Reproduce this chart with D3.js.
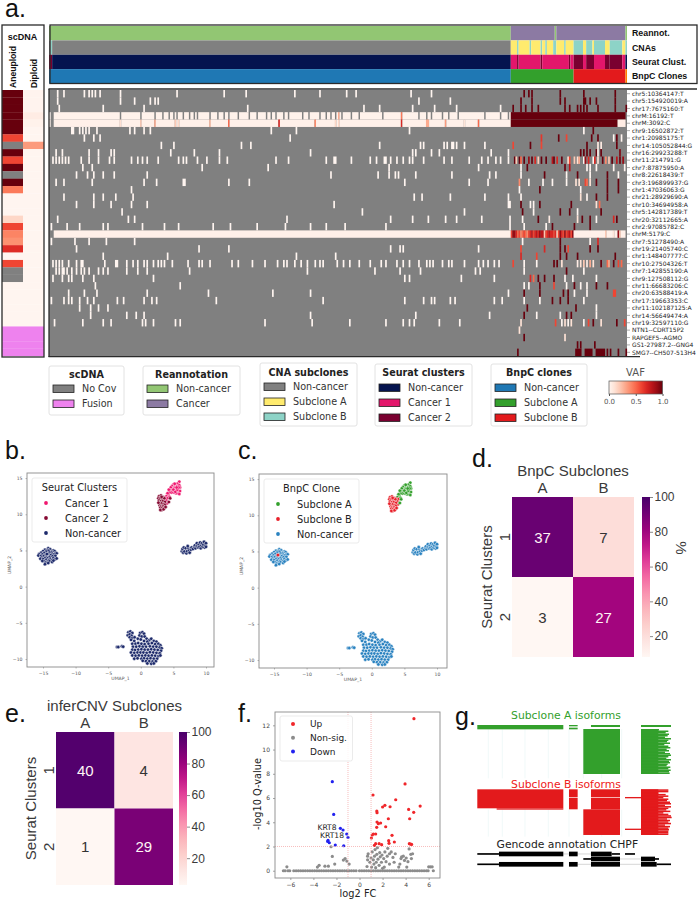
<!DOCTYPE html>
<html>
<head>
<meta charset="utf-8">
<title>scDNA / scRNA subclones</title>
<script src="https://d3js.org/d3.v7.min.js"></script>
<style>
    body { margin: 0; background: white; }
    svg { display: block; }
    text { font-family: "DejaVu Sans"; }
    .arial text, text.arial { font-family: "Liberation Sans"; }
</style>
</head>
<body>
<script>
// ---------- panel a data ----------
const rowLabels = ["chr5:10364147:T","chr5:154920019:A","chr17:7675160:T","chrM:16192:T","chrM:3092:C","chr9:16502872:T","chr1:20985175:T","chr14:105052844:G","chr16:29923288:T","chr11:214791:G","chr7:87875950:A","chr8:22618439:T","chr3:196899937:G","chr1:47036063:G","chr21:28929690:A","chr10:34694958:A","chr5:142817389:T","chr20:32112665:A","chr2:97085782:C","chrM:5179:C","chr7:51278490:A","chr19:21405740:C","chr1:148407777:C","chr10:27504326:T","chr7:142855190:A","chr9:127508112:G","chr11:66683206:C","chr20:63588419:A","chr17:19663353:C","chr11:102187125:A","chr14:56649474:A","chr19:32597110:G","NTN1--CDRT15P2","RAPGEF5--AGMO","GS1-27987.2--GNG4","SMG7--CH507-513H4"];
const nCols = 368;

// scDNA side bars (null = no coverage, "F" = fusion row)
const scAneuploid = [1,1,1,1,1,1,0.6,null,1,0.6,1,null,1,0.45,0,0,0,0.15,0.6,0.42,0.38,0.68,0,0.6,null,null,0,0,0,0,0,0,"F","F","F","F"];
const scDiploid = [0.01,0.01,0.01,0.05,0.02,0,0,0.35,0,0,0,0,0,0,0,0,0,0,0,0,0,0,0,0,0,0,0,0,0,0,0,0,"F","F","F","F"];

// annotation bars as [first column, end column, category]
const annotNames = ["Reannot.","CNAs","Seurat Clust.","BnpC Clones"];
const reannotSegs = [[0,294,"non"],[294,322,"cancer"],[322,323,"non"],[323,367,"cancer"],[367,368,"non"]];
const cnaSegs = [[0,1,"non"],[1,2,"b"],[2,294,"non"],[294,298,"a"],[298,299,"b"],[299,306,"a"],[306,307,"b"],[307,313,"a"],[313,314,"b"],[314,316,"a"],[316,317,"b"],[317,321,"a"],[321,323,"b"],[323,328,"a"],[328,329,"b"],[329,334,"a"],[334,340,"b"],[340,342,"a"],[342,346,"b"],[346,347,"a"],[347,354,"b"],[354,357,"a"],[357,365,"b"],[365,367,"a"],[367,368,"b"]];
const seuratSegs = [[0,2,"c2"],[2,294,"non"],[294,298,"c1"],[298,299,"c2"],[299,313,"c1"],[313,314,"c2"],[314,331,"c1"],[331,332,"c2"],[332,334,"c1"],[334,340,"c2"],[340,342,"c1"],[342,347,"c2"],[347,354,"c1"],[354,357,"c2"],[357,365,"c2"],[365,367,"c1"],[367,368,"non"]];
const bnpcSegs = [[0,294,"non"],[294,334,"a"],[334,367,"b"],[367,368,"last"]];

// columns with coverage and VAF near 0, one list per row, non-cancer cells
const whiteCols = [
[5,9,22,25,27,29,32,45,81,111,125,156,172,189,195,230,243],
[5,45,54,64,67,69,235,255],
[6,34,60,126,200,210,231,245,259,287],
[],[],
[14,15,19,21,23,25,30,51,54,60,64,141,157,229],
[22,28,32,153],
[71,79,122,128,210,236,238,251,253,256,257,259,264,277],
[4,8,25,31,39,41,77,92,108,166,231,233,243,248,281,292],
[2,4,6,8,10,12,20,25,31,38,41,52,56,59,62,69,82,85,87,94,100,108,113,144,152,176,181,182,192,204,208,213,214,217,221,225,229,231,238,251,256,267,275,279,284,287,292],
[21,27,97,139,216,273],
[17,24,28,34,41,62,179,209,216,220,222,233,256,280,284],
[4,9,27,60,68,85,86,114,127,226,267,279],
[52],
[9,28,34,42,53,232,237,255,277,292],
[17,28,39,52,62,181,292,293],
[46,199,264],
[5,50,54,151,217,231,241,252,259,275,293],
[1,11,19,34,37,59,73,82,104,115,132,150,166,176,188,214,293],
[],
[1,16,25,36,54],
[17,95,114,217,223,225,273],
[34,75,157,182],
[2,4,6,8,12,17,20,21,35,42,43,49,53,56,60,62,66,69,71,73,78,88,95,97,102,116,120,129,137,145,149,151,156,160,164,169,172,174,183,187,191,197,204,211,214,221,225,229,235,240,242,244,250,254,256,264,273,276,279,283,286],
[4,6,8,9,11,14,17,20,22,25,31,34,37,49,56,62,89,164,207,223,236,271,274],
[2,8,12,14,21,28,66,226,229,262,283],
[29,83],
[12,22,30,62,101,142,166,292],
[1,9,12,14,19,24,28,43,47,60,65,68,106,174,226,238,243,245,255,258,283,288],
[19,26,31,37],
[26,49,55,60,166,233,280],
[3,21,34,39,59,61,66,80,83,137,167,191,214,225,229,232,248,261],
[],[],[],[]
];

// the three chrM rows are covered nearly everywhere: [row, first col, end col, vaf]
const coveredSpans = [[3,0,1,0],[3,3,294,0.02],[4,0,1,0.02],[4,3,294,0.03],[19,3,294,0.03],[3,294,367,1],[4,294,362,1],[4,362,367,0.05],[19,334,359,0.03],[19,360,367,0.03]];
const chrM16192Gaps = [45,58,67,72,76,79,81,85,89,92,94,102,107,111,114,120,127,132,138,141,144,149,152,161,165,172,176,179,182,186,192,197,212,224,235,240,243,250,254,260,277,287,292];

// single cells with a read VAF: one list per row of [col, vaf]
const vafCells = [
[[302,1],[305,1],[307,1],[325,1],[340,1],[360,1]],
[[300,1],[307,1],[325,1],[328,1],[340,1],[341,1],[344,1],[348,1],[360,1]],
[[295,1],[300,1],[303,1],[307,1],[311,1],[328,1],[331,1],[336,1],[338,1],[340,1],[342,1],[349,1],[360,1],[367,1]],
[[184,0.3],[224,0.45]],
[[45,0.12],[58,0.2],[67,0.3],[80,0.2],[82,0.15],[102,0.25],[114,0.5],[146,0.7],[169,0.4],[182,0.15],[184,0.15],[224,0.7],[240,0.3],[241,0.3],[252,0.35],[264,0.1],[273,0.5]],
[[340,0],[346,1]],
[[313,0.65],[324,1],[329,0.6],[345,1],[349,1],[359,0],[361,1],[364,0]],
[[295,0.6],[306,1],[313,0.6],[342,1],[349,0.05],[351,0.05],[361,1]],
[[338,1],[340,1],[342,1],[344,1],[348,1],[349,0],[351,1],[363,0.95]],
[[296,1],[297,0.2],[299,1],[300,0.5],[302,1],[305,0.9],[307,1],[309,0.7],[311,0.2],[313,1],[316,1],[320,0.8],[321,1],[323,0.7],[326,1],[330,0.1],[331,0.6],[334,0.2],[336,0.1],[337,0.3],[340,0],[341,0.9],[343,0.7],[346,0],[347,0.7],[349,0.1],[352,1],[354,0.4],[356,0.2],[358,1],[361,0.8],[363,1],[365,0.9]],
[[300,0],[304,1],[328,1],[331,0.8],[342,0],[344,0],[348,0],[359,0],[366,0]],
[[300,0],[315,1],[329,0],[336,1],[344,0],[355,1],[362,0]],
[[299,0.4],[305,0],[314,0],[320,0],[329,0],[335,0.1],[337,0.1],[341,0.6],[342,0.5],[344,0.1],[348,1],[355,1],[362,1]],
[[299,0],[312,1],[338,0],[355,1],[362,1]],
[[300,0],[338,0.1],[342,0],[348,1],[355,1]],
[[300,1],[306,0],[308,0],[312,1],[332,1],[348,0.1],[350,0.5]],
[[301,1],[308,0],[325,1],[331,1],[336,0],[351,1]],
[[301,0],[311,1],[318,0.05],[336,0.1],[339,1],[344,1],[348,0],[359,0.7],[361,1]],
[[302,0],[316,0],[320,1],[334,1],[344,1]],
[[294,0.6],[295,0.9],[296,0.9],[297,0.7],[298,0.5],[299,0.6],[300,0.4],[301,0.5],[302,0.6],[303,0.5],[304,0.4],[305,0.6],[306,0.7],[307,0.8],[308,0.6],[309,0.7],[310,0.8],[311,0.7],[312,0.9],[313,0.8],[314,0.8],[315,0.2],[316,0.6],[317,0.7],[318,0.8],[319,0.7],[320,0.7],[321,0.6],[322,0.7],[323,0.2],[324,0.6],[325,0.9],[326,0.7],[327,0.6],[328,0.9],[329,0.6],[330,0.7],[331,0.8],[332,0.6],[333,0.9],[354,0.2],[359,0.1],[362,0.9],[363,0.2]],
[[301,0],[325,1],[344,0],[349,0.7]],
[[300,0.6],[315,0.7],[325,1],[328,1],[330,0.6],[344,1],[349,1]],
[[300,0.7],[310,0.6],[325,1],[329,1],[336,1],[360,1]],
[[295,0.6],[302,0],[310,0],[321,1],[323,1],[326,0.1],[336,0.05],[338,0.1],[340,0.2],[342,0.05],[344,0.3],[346,0.1],[351,1],[355,0.5],[356,0.3],[359,1],[362,0.6],[364,0.5]],
[[302,0],[329,1],[340,0]],
[[306,0.7],[308,0.5],[311,1],[315,1],[321,1],[328,0],[333,0],[348,0]],
[[302,0],[305,0],[312,1],[321,0.6],[329,0],[334,1],[338,0],[342,0],[348,1],[355,1]],
[[302,1],[312,1],[327,1],[330,1],[334,0],[342,0],[359,0.6],[360,0.6]],
[[302,0],[312,0],[320,1],[325,1],[330,1],[340,0]],
[[304,1],[335,1],[348,0]],
[[302,1],[310,0],[325,0],[329,1],[332,1],[348,0]],
[[300,0.1],[322,0.6],[326,0],[328,0.1],[330,0],[332,0.1],[340,0],[343,0.6],[346,1],[351,0.1],[361,1],[366,0.6]],
[[299,0.1]],
[[302,1],[328,0.1]],
[[336,1],[338,1],[347,1]],
[[298,1],[335,1],[336,1],[337,1],[338,1],[341,1],[342,1],[343,1],[344,1],[345,1],[348,1],[349,1],[350,1],[351,1],[352,1],[353,1],[355,1],[357,1],[362,1],[367,1]]
];

// ---------- panels b and c data (UMAP coordinates) ----------
const umapLeft = [[-14.2,5.3],[-14.7,5.1],[-14.3,5.05],[-13.9,5.15],[-13.4,5.0],[-15.0,4.9],[-14.5,4.85],[-14.1,4.95],[-13.7,4.8],[-13.2,4.9],[-15.3,4.7],[-14.8,4.65],[-14.0,4.7],[-13.6,4.55],[-13.1,4.65],[-15.6,4.5],[-15.1,4.45],[-14.6,4.4],[-14.2,4.5],[-13.8,4.35],[-13.3,4.45],[-12.9,4.6],[-15.7,4.3],[-15.3,4.25],[-14.9,4.2],[-14.5,4.15],[-14.0,4.1],[-13.5,4.2],[-13.1,4.25],[-15.2,4.0],[-14.7,3.95],[-14.3,3.9],[-13.9,3.85],[-13.4,3.95],[-15.4,3.85],[-15.0,3.8],[-14.5,3.7],[-14.1,3.65],[-13.7,3.6],[-13.2,3.75],[-12.9,3.9],[-14.8,3.5],[-14.3,3.45],[-14.0,3.5],[-13.6,3.4],[-15.1,3.55],[-14.6,3.3],[-14.2,3.25],[-14.7,3.1],[-13.4,3.6]];
const strayB = [[-14.4,4.5]];
const umapRight = [[6.3,4.9],[6.4,5.2],[6.5,4.7],[6.6,5.4],[6.7,4.85],[6.9,5.3],[7.0,4.6],[7.1,4.9],[7.3,5.3],[7.4,5.0],[7.5,4.7],[7.7,5.1],[7.8,5.4],[8.0,5.2],[8.2,5.5],[8.3,5.7],[8.4,5.3],[8.6,5.6],[8.6,6.0],[8.8,5.4],[8.9,5.8],[9.0,5.5],[9.1,6.1],[9.2,5.3],[9.3,5.7],[9.4,6.0],[9.5,5.5],[9.6,5.8],[9.7,6.2],[9.8,5.4],[9.9,5.7],[10.0,6.0],[10.0,5.5],[7.2,5.6]];
const umapBottom = [[-3.65,-8.35],[-3.45,-8.35],[-2.9,-8.25],[-2.7,-8.3],[-1.9,-6.3],[-1.6,-6.2],[-1.3,-6.4],[-2.0,-6.7],[-1.7,-6.6],[-1.4,-6.8],[-1.7,-7.0],[-1.3,-7.1],[-0.95,-7.0],[-1.5,-7.35],[-1.0,-7.5],[-0.1,-6.4],[0.25,-6.3],[0.5,-6.5],[-0.2,-6.75],[0.15,-6.9],[-0.45,-7.2],[0.6,-6.9],[0.0,-7.3],[0.9,-7.2],[1.3,-7.4],[1.6,-7.2],[0.5,-7.5],[1.0,-7.6],[2.0,-7.5],[2.4,-7.6],[-1.3,-7.9],[-0.8,-7.9],[-0.4,-7.8],[0.1,-7.9],[0.6,-7.95],[1.2,-7.9],[1.7,-7.8],[2.2,-7.95],[2.7,-7.9],[3.0,-8.1],[-1.2,-8.3],[-0.7,-8.3],[-0.2,-8.25],[0.3,-8.3],[0.8,-8.3],[1.4,-8.25],[1.9,-8.3],[2.4,-8.3],[2.9,-8.4],[3.2,-8.5],[-1.3,-8.7],[-0.9,-8.75],[-0.4,-8.7],[0.1,-8.65],[0.6,-8.7],[1.1,-8.7],[1.6,-8.65],[2.1,-8.7],[2.6,-8.75],[3.1,-8.85],[-1.5,-9.1],[-1.0,-9.15],[-0.5,-9.1],[-0.05,-9.1],[0.4,-9.1],[0.9,-9.15],[1.4,-9.05],[1.9,-9.1],[2.4,-9.15],[2.9,-9.2],[-1.3,-9.5],[-0.8,-9.55],[-0.3,-9.5],[0.2,-9.55],[0.7,-9.5],[1.2,-9.55],[1.7,-9.5],[2.2,-9.55],[2.7,-9.6],[3.0,-9.5],[-1.0,-9.95],[-0.5,-9.9],[0.1,-9.95],[0.5,-9.9],[1.0,-9.95],[1.5,-9.9],[2.0,-9.95],[2.5,-9.95],[0.3,-10.25],[0.8,-10.3],[1.3,-10.3],[1.8,-10.35],[2.3,-10.3],[1.0,-10.6],[1.6,-10.65],[2.0,-10.6]];
const cancer1A = [[5.9,14.5],[5.6,14.2],[5.3,14.0],[5.0,14.1],[4.8,13.9],[5.2,13.8],[5.6,13.9],[5.9,14.0],[6.0,13.7],[5.7,13.6],[5.4,13.5],[5.1,13.6],[4.8,13.5],[4.6,13.7],[4.6,13.3],[4.9,13.2],[5.2,13.3],[5.5,13.2],[5.8,13.3],[6.0,13.2],[5.7,12.9],[5.9,12.8],[5.4,12.9],[5.1,13.0],[4.7,13.0],[4.4,13.0],[4.3,13.4],[5.0,13.4],[5.3,13.1],[5.6,13.4],[5.8,13.7],[5.5,13.7],[4.2,12.7],[4.1,12.9],[3.9,12.5],[4.4,12.4],[5.2,14.2]];
const cancer1B = [[3.7,12.3],[4.1,12.2],[3.4,11.9],[3.6,12.0],[3.1,12.3],[4.0,11.5],[3.9,11.9]];
const cancer2A = [[4.5,12.2],[4.3,11.7],[3.8,11.0]];
const cancer2B = [[2.8,12.5],[3.1,12.6],[3.4,12.4],[2.7,12.2],[3.0,12.2],[3.3,12.1],[3.6,12.2],[2.8,11.9],[3.1,11.8],[3.4,11.8],[3.7,11.7],[2.9,11.5],[3.2,11.5],[3.5,11.4],[3.7,11.3],[2.9,11.2],[3.1,11.1],[3.4,11.1],[3.0,10.9],[3.3,10.9],[3.6,10.9],[3.2,10.6],[3.0,10.6],[3.5,10.7],[2.7,11.6],[3.8,11.0],[3.2,12.4]];
const umapTicksX = [-15,-10,-5,0,5,10];
const umapTicksY = [-10,-5,0,5,10,15];

// ---------- panels d and e data ----------
const bnpcCounts = [[37,7],[3,27]];
const bnpcPct = [[92.5,20.6],[7.5,79.4]];
const cnvCounts = [[40,4],[1,29]];
const cnvPct = [[97.6,12.1],[2.4,87.9]];
const cbarTicks = [20,40,60,80,100];

// ---------- panel f data ----------
const volcanoUp = [[4.72,12.55],[3.95,7.16],[1.17,6.25],[3.14,5.86],[5.26,5.34],[2.2,5.4],[2.0,5.26],[2.65,5.28],[4.26,5.06],[4.7,4.82],[1.5,4.93],[1.52,4.79],[4.35,4.29],[2.5,4.29],[1.52,4.02],[1.63,3.88],[1.83,3.94],[2.27,3.63],[1.49,3.58],[2.82,2.92],[1.1,2.95],[1.2,3.03],[1.4,3.03],[1.03,2.7],[2.53,2.48],[2.56,2.26],[3.02,2.37],[1.4,2.23],[1.7,2.23],[1.92,2.15],[1.29,2.09],[4.32,2.23],[4.52,2.17],[4.42,2.2]];
const volcanoDown = [[-2.36,7.35],[-2.24,4.65],[-1.66,3.5],[-1.43,3.36],[-1.11,3.03],[-1.0,2.75],[-2.73,2.5],[-2.62,2.31],[-2.76,2.42],[-2.1,2.12],[-1.37,2.06]];
const volcanoGray = [[-6.6,0],[-6.45,0],[-6.3,0.32],[-6.2,0],[-6.05,0],[-2.36,1.18],[-2.47,1.98],[-3.5,0.45],[-3.65,0.3],[-3.0,0.38],[-2.7,0.38],[-2.15,0.55],[-1.25,1.0],[-1.1,0.8],[-1.4,0.88],[-0.9,0.55],[6.0,0.32],[6.15,0.32],[6.3,0.32],[6.4,0],[0.65,0.35],[0.7,0.9],[0.7,1.2],[0.75,1.4],[0.9,0.7],[1.0,1.05],[1.05,0.3],[1.1,1.55],[1.2,0.9],[1.25,0.55],[1.3,1.2],[1.35,1.75],[1.4,0.25],[1.45,0.7],[1.5,1.35],[1.55,1.9],[1.6,0.95],[1.7,0.45],[1.75,1.5],[1.8,1.15],[1.9,0.7],[1.95,1.3],[2.1,1.0],[2.15,0.3],[2.2,1.55],[2.3,0.75],[2.4,1.2],[2.45,1.85],[2.6,1.4],[2.6,0.55],[2.75,1.55],[2.9,1.1],[3.0,0.7],[3.1,1.4],[3.4,0.3],[3.5,0.55],[3.6,1.0],[3.65,1.15],[3.8,1.2],[3.9,0.85],[4.05,1.05],[4.2,0.75],[4.3,1.8],[4.45,1.35],[4.5,1.0],[4.6,1.4],[4.1,0.3],[2.0,0.2]];
const volcanoZeroX = [-5.7,-5.5,-5.3,-5.1,-4.9,-4.7,-4.5,-4.3,-4.1,-3.9,-3.7,-3.5,-3.3,-3.1,-2.9,-2.7,-2.5,-2.3,-2.1,-1.9,-1.7,-1.5,-1.3,-1.1,-0.9,-0.7,-0.5,-0.3,0.0,0.2,0.4,0.6,0.8,1.0,1.2,1.4,1.6,1.8,2.0,2.2,2.4,2.6,2.8,3.0,3.2,3.4,3.6,3.8,4.0,4.2,4.4,4.6,4.8,5.0,5.2,5.4,5.6,5.8,5.95];
const volcanoTicksX = [-6,-4,-2,0,2,4,6];
const volcanoTicksY = [0,2,4,6,8,10,12];

// ---------- panel g data, browser coordinates [start, end, top, bottom] ----------
const isoGreen = [[67,325,180,193],[342,368,180,184],[342,368,188,193],[408,495,180,186],[558,648,180,186],[385,495,192,327],[558,610,192,327]];
const isoRed = [[67,325,373,430],[125,325,430,434],[342,368,373,397],[342,368,399,433],[408,495,373,397],[408,495,399,433],[385,495,433,510],[510,558,396,400],[510,558,491,495],[558,610,373,510]];
const greenRead = [612,640,632,642,638,630,648,640,636,645,628,640,646,635,642,630,645,648,640,634,648,642,645,638,635,646,640,647,642,644];
const redRead = [640,640,610,632,640,625,640,636,645,648,630,648,640,634,646,625,640,648,650,636,645,640,648,630,645,640,642,640,640,640];
const isoFaintX = [100,142,210,280,342,385,440,500];
const geneThin = [[67,132,564.5,569.5],[470,495,564.5,569.5],[510,540,564.5,569.5],[385,408,579.5,584.5],[600,612,579.5,584.5],[67,132,595.5,600.5],[605,648,595.5,600.5]];
const geneThick = [[132,325,560,574],[342,368,560,574],[408,470,560,574],[408,495,575,589],[558,600,575,589],[132,325,591,605],[342,368,591,605],[408,495,591,605],[558,605,591,605]];
const geneIntron = [[325,342,567],[368,408,567],[368,408,598],[495,558,598],[495,558,582]];

// ---------- colours ----------
const reds = d3.scaleSequential(d3.interpolateReds).domain([0,1]);
const gray = "#808080";
const reannotCol = {non:"#92c673", cancer:"#8c7aa3"};
const cnaCol = {non:gray, a:"#ffeb6e", b:"#8dd3c7"};
const seuratCol = {non:"#05144f", c1:"#e3166b", c2:"#7a0030"};
const bnpcCol = {non:"#1f78b4", a:"#33a02c", b:"#e31a1c", last:"#ff7f00"};
const fusionCol = "#ee82ee";

const svg = d3.select("body").append("svg").attr("width",698).attr("height",900);

function letter(s,x,y){
    svg.append("text").attr("class","arial").attr("x",x).attr("y",y).attr("font-size",25).attr("fill","#111").text(s);
}
letter("a.",5,17); letter("b.",5,459); letter("c.",238,459); letter("d.",472,467);
letter("e.",5,722); letter("f.",238,722); letter("g.",455,725);

// ---------- panel a ----------
const colX = d3.scaleBand().domain(d3.range(nCols)).range([49,627]);
const colW = colX.bandwidth();
const rowY = d3.scaleBand().domain(d3.range(rowLabels.length)).range([90,356]);

// annotation strip
const annotY = d3.scaleBand().domain(annotNames).range([26,83.5]);
const annotSets = [[reannotSegs,reannotCol],[cnaSegs,cnaCol],[seuratSegs,seuratCol],[bnpcSegs,bnpcCol]];
annotSets.forEach(function(set,i){
    svg.append("g").selectAll("rect").data(set[0]).enter().append("rect")
        .attr("x",d=>colX(d[0])).attr("width",d=>(d[1]-d[0])*colW)
        .attr("y",annotY(annotNames[i])).attr("height",annotY.bandwidth())
        .attr("fill",d=>set[1][d[2]]);
});
svg.append("rect").attr("x",50).attr("y",25).attr("width",647).attr("height",58.5)
    .attr("fill","none").attr("stroke","#2b2b2b").attr("stroke-width",1.3);
svg.append("g").selectAll("text").data(annotNames).enter().append("text")
    .attr("class","arial").attr("x",632).attr("y",d=>annotY(d)+annotY.bandwidth()/2+3)
    .attr("font-size",8.8).attr("font-weight","bold").attr("fill","#111").text(d=>d);

// main heatmap: build the grid, null = no coverage
const grid = rowLabels.map(()=>new Array(nCols).fill(null));
coveredSpans.forEach(function(s){ for(let c=s[1];c<s[2];c++) grid[s[0]][c]=s[3]; });
chrM16192Gaps.forEach(c=>{ grid[3][c]=null; });
whiteCols.forEach((cols,r)=>cols.forEach(c=>{ grid[r][c]=0; }));
vafCells.forEach((cells,r)=>cells.forEach(d=>{ grid[r][d[0]]=d[1]; }));
// neighbouring cells with the same value become one rect, otherwise seams show on the gray
const runs = [];
grid.forEach(function(row,r){
    row.forEach(function(v,c){
        if(v===null) return;
        const last = runs[runs.length-1];
        if(last && last.r===r && last.v===v && last.c+last.n===c) last.n++;
        else runs.push({r:r,c:c,n:1,v:v});
    });
});

svg.append("rect").attr("x",49).attr("y",90).attr("width",578).attr("height",266).attr("fill",gray);
svg.append("g").selectAll("rect").data(runs).enter().append("rect")
    .attr("x",d=>colX(d.c)).attr("y",d=>rowY(d.r))
    .attr("width",d=>d.n*colW+0.1).attr("height",rowY.bandwidth())
    .attr("fill",d=>reds(d.v));
svg.append("g").selectAll("line").data(rowLabels).enter().append("line")
    .attr("x1",627).attr("x2",630)
    .attr("y1",(d,i)=>rowY(i)+rowY.bandwidth()/2).attr("y2",(d,i)=>rowY(i)+rowY.bandwidth()/2)
    .attr("stroke","#777").attr("stroke-width",0.6);
svg.append("g").selectAll("text").data(rowLabels).enter().append("text")
    .attr("x",632).attr("y",(d,i)=>rowY(i)+rowY.bandwidth()/2+2.2)
    .attr("font-size",6).attr("fill","#222").text(d=>d);
// frame: top and bottom run under the labels, left only around the cells
svg.append("line").attr("x1",48.5).attr("x2",697).attr("y1",89).attr("y2",89).attr("stroke","#2b2b2b").attr("stroke-width",1.3);
svg.append("line").attr("x1",48.5).attr("x2",640).attr("y1",356.6).attr("y2",356.6).attr("stroke","#2b2b2b").attr("stroke-width",1.3);
svg.append("line").attr("x1",49).attr("x2",49).attr("y1",89).attr("y2",357).attr("stroke","#2b2b2b").attr("stroke-width",1.3);

// scDNA bars
const scX = d3.scaleBand().domain(["Aneuploid","Diploid"]).range([2,44]);
[["Aneuploid",scAneuploid],["Diploid",scDiploid]].forEach(function(s){
    svg.append("g").selectAll("rect").data(s[1]).enter().append("rect")
        .attr("x",scX(s[0])).attr("width",scX.bandwidth())
        .attr("y",(d,i)=>rowY(i)).attr("height",rowY.bandwidth()+0.2)
        .attr("fill",d=> d===null ? gray : d==="F" ? fusionCol : reds(d));
});
svg.append("rect").attr("x",2).attr("y",25).attr("width",42).attr("height",332)
    .attr("fill","none").attr("stroke","#2b2b2b").attr("stroke-width",1.3);
svg.append("text").attr("class","arial").attr("x",22.5).attr("y",40).attr("text-anchor","middle")
    .attr("font-size",9).attr("font-weight","bold").attr("fill","#111").text("scDNA");
["Aneuploid","Diploid"].forEach(function(s){
    const cx = scX(s)+scX.bandwidth()/2+3;
    svg.append("text").attr("class","arial").attr("transform","translate("+cx+",88) rotate(-90)")
        .attr("font-size",8.6).attr("font-weight","bold").attr("fill","#111").text(s);
});

// legends under the heatmap
function legendBox(x,w,y0,h,title,titleY,itemYs,items){
    const g = svg.append("g");
    g.append("rect").attr("x",x).attr("y",y0).attr("width",w).attr("height",h).attr("rx",2)
        .attr("fill","white").attr("stroke","#e2e2e2").attr("stroke-width",1);
    g.append("text").attr("x",x+w/2).attr("y",titleY).attr("text-anchor","middle")
        .attr("font-size",9.6).attr("font-weight","bold").attr("fill","#222").text(title);
    items.forEach(function(it,i){
        g.append("rect").attr("x",x+4).attr("y",itemYs[i]-4).attr("width",21).attr("height",7.5)
            .attr("fill",it[1]).attr("stroke","#222").attr("stroke-width",0.8);
        g.append("text").attr("x",x+33).attr("y",itemYs[i]+3).attr("font-size",9.6).attr("fill","#333").text(it[0]);
    });
}
legendBox(49,75,366,49,"scDNA",378,[389,404],[["No Cov",gray],["Fusion",fusionCol]]);
legendBox(143,97,366,49,"Reannotation",378,[389,404],[["Non-cancer",reannotCol.non],["Cancer",reannotCol.cancer]]);
legendBox(260,97,363,63,"CNA subclones",376,[387,402,417],[["Non-cancer",gray],["Subclone A",cnaCol.a],["Subclone B",cnaCol.b]]);
legendBox(375,97,364,62,"Seurat clusters",376,[388,403,418],[["Non-cancer",seuratCol.non],["Cancer 1",seuratCol.c1],["Cancer 2",seuratCol.c2]]);
legendBox(491,96,364,62,"BnpC clones",376,[388,403,418],[["Non-cancer",bnpcCol.non],["Subclone A",bnpcCol.a],["Subclone B",bnpcCol.b]]);

// VAF colour bar
const defs = svg.append("defs");
function gradient(id,interp,vals){
    const g = defs.append("linearGradient").attr("id",id);
    vals.forEach(v=>g.append("stop").attr("offset",v).attr("stop-color",interp(v)));
}
const stops = [0,0.1,0.2,0.3,0.4,0.5,0.6,0.7,0.8,0.9,1];
gradient("vafGrad",d3.interpolateReds,stops);
svg.append("text").attr("x",635.5).attr("y",376).attr("text-anchor","middle").attr("font-size",10).attr("fill","#555").text("VAF");
svg.append("rect").attr("x",609).attr("y",381).attr("width",53.5).attr("height",13)
    .attr("fill","url(#vafGrad)").attr("stroke","#555").attr("stroke-width",0.7);
const vafScale = d3.scaleLinear().domain([0,1]).range([609,662.5]);
const vafAxis = svg.append("g").attr("transform","translate(0,394)")
    .call(d3.axisBottom(vafScale).tickValues([0,0.5,1]).tickFormat(d3.format(".1f")).tickSize(2));
vafAxis.select(".domain").remove();
vafAxis.selectAll("text").attr("font-size",7).attr("fill","#555").attr("font-family","DejaVu Sans");
vafAxis.selectAll("line").attr("stroke","#555");

// ---------- panels b, c ----------
const umapSets = [
    {pts:umapLeft,   b:"non", c:"non"},
    {pts:umapRight,  b:"non", c:"non"},
    {pts:umapBottom, b:"non", c:"non"},
    {pts:strayB,     b:"non", c:"b"},
    {pts:cancer1A,   b:"c1",  c:"a"},
    {pts:cancer1B,   b:"c1",  c:"b"},
    {pts:cancer2A,   b:"c2",  c:"a"},
    {pts:cancer2B,   b:"c2",  c:"b"}
];
function umapPanel(left,top,right,bottom,ticks0,key,colours,title,legend,lb){
    const pxPerX = 6.52;
    const x = d3.scaleLinear().domain([-15+(left-ticks0)/pxPerX,-15+(right-ticks0)/pxPerX]).range([left,right]);
    const y = d3.scaleLinear().domain([-11.1,15.7]).range([bottom,top]);
    const g = svg.append("g");
    g.append("rect").attr("x",left).attr("y",top).attr("width",right-left).attr("height",bottom-top)
        .attr("fill","white").attr("stroke","#8a8a8a").attr("stroke-width",0.9);
    const ax = g.append("g").attr("transform","translate(0,"+bottom+")").call(d3.axisBottom(x).tickValues(umapTicksX).tickSize(1.5));
    const ay = g.append("g").attr("transform","translate("+left+",0)").call(d3.axisLeft(y).tickValues(umapTicksY).tickSize(1.5));
    [ax,ay].forEach(function(a){
        a.select(".domain").remove();
        a.selectAll("text").attr("font-size",4.6).attr("fill","#555").attr("font-family","DejaVu Sans");
        a.selectAll("line").attr("stroke","#777").attr("stroke-width",0.5);
    });
    g.append("text").attr("x",(left+right)/2).attr("y",bottom+13).attr("text-anchor","middle").attr("font-size",4.6).attr("fill","#555").text("UMAP_1");
    g.append("text").attr("transform","translate("+(left-16)+","+((top+bottom)/2-5)+") rotate(-90)").attr("text-anchor","middle").attr("font-size",4.6).attr("fill","#555").text("UMAP_2");
    umapSets.forEach(function(s){
        g.append("g").selectAll("circle").data(s.pts).enter().append("circle")
            .attr("cx",d=>x(d[0])).attr("cy",d=>y(d[1])).attr("r",1.75)
            .attr("fill",colours[s[key]]).attr("stroke","white").attr("stroke-width",0.45);
    });
    // legend
    g.append("rect").attr("x",lb.x).attr("y",lb.y).attr("width",lb.w).attr("height",64).attr("rx",2)
        .attr("fill","white").attr("fill-opacity",0.85).attr("stroke","#e6e6e6").attr("stroke-width",0.8);
    g.append("text").attr("x",lb.x+lb.w/2).attr("y",lb.y+13).attr("text-anchor","middle").attr("font-size",9.8).attr("fill","#222").text(title);
    legend.forEach(function(it,i){
        const yy = lb.y+25+i*15;
        g.append("circle").attr("cx",lb.x+14).attr("cy",yy).attr("r",1.9).attr("fill",it[1]);
        g.append("text").attr("x",lb.x+33).attr("y",yy+3.5).attr("font-size",9.8).attr("fill","#222").text(it[0]);
    });
}
const seuratDot = {non:"#1d2a6b", c1:"#f0176f", c2:"#860a33"};
const bnpcDot = {non:"#2a82c0", a:"#33a02c", b:"#e8202a"};
umapPanel(27,473,214,667,43,"b",seuratDot,"Seurat Clusters",[["Cancer 1",seuratDot.c1],["Cancer 2",seuratDot.c2],["Non-cancer",seuratDot.non]],{x:32,y:478,w:95});
umapPanel(259,474,447,668,274,"c",bnpcDot,"BnpC Clone",[["Subclone A",bnpcDot.a],["Subclone B",bnpcDot.b],["Non-cancer",bnpcDot.non]],{x:264,y:479,w:95});

// ---------- panels d, e ----------
function confusion(o){
    const g = svg.append("g").attr("class","arial");
    const x = d3.scaleBand().domain([0,1]).range([o.x0,o.x1]);
    const y = d3.scaleBand().domain([0,1]).range([o.y0,o.y1]);
    const col = d3.scaleSequential(d3.interpolateRdPu).domain(o.dom);
    o.pct.forEach(function(row,r){
        g.append("g").selectAll("rect").data(row).enter().append("rect")
            .attr("x",(d,c)=>x(c)).attr("y",y(r)).attr("width",x.bandwidth()).attr("height",y.bandwidth())
            .attr("fill",d=>col(d));
        g.append("g").selectAll("text").data(o.counts[r]).enter().append("text")
            .attr("x",(d,c)=>x(c)+x.bandwidth()/2).attr("y",y(r)+y.bandwidth()/2+5.5).attr("text-anchor","middle")
            .attr("font-size",15).attr("fill",(d,c)=>o.pct[r][c]>50?"#fff5f5":"#333").text(d=>d);
    });
    const ink = "#3a3a3a";
    g.append("text").attr("x",(o.x0+o.x1)/2).attr("y",o.titleY).attr("text-anchor","middle").attr("font-size",15).attr("fill",ink).text(o.title);
    ["A","B"].forEach(function(s,i){
        g.append("text").attr("x",x(i)+x.bandwidth()/2).attr("y",o.y0-4).attr("text-anchor","middle").attr("font-size",15).attr("fill",ink).text(s);
    });
    g.append("text").attr("transform","translate("+o.yLabX+","+((o.y0+o.y1)/2)+") rotate(-90)").attr("text-anchor","middle").attr("font-size",15).attr("fill",ink).text("Seurat Clusters");
    ["1","2"].forEach(function(s,i){
        g.append("text").attr("transform","translate("+(o.x0-2.5)+","+(y(i)+y.bandwidth()/2)+") rotate(-90)").attr("text-anchor","middle").attr("font-size",15).attr("fill",ink).text(s);
    });
    // colour bar
    const cb = d3.scaleLinear().domain(o.dom).range([o.y1,o.y0]);
    const gid = "rdpu"+o.x0;
    const grad = defs.append("linearGradient").attr("id",gid).attr("x1",0).attr("x2",0).attr("y1",1).attr("y2",0);
    stops.forEach(v=>grad.append("stop").attr("offset",v).attr("stop-color",d3.interpolateRdPu(v)));
    g.append("rect").attr("x",o.cbX).attr("y",o.y0).attr("width",8).attr("height",o.y1-o.y0).attr("fill","url(#"+gid+")");
    const a = g.append("g").attr("transform","translate("+(o.cbX+8)+",0)").call(d3.axisRight(cb).tickValues(cbarTicks).tickSize(3).tickPadding(1.5));
    a.select(".domain").remove();
    a.selectAll("text").attr("font-size",12).attr("fill",ink).attr("font-family","Liberation Sans");
    a.selectAll("line").attr("stroke",ink).attr("stroke-width",0.6);
}
confusion({x0:512,x1:634,y0:497,y1:657,dom:[8,100],pct:bnpcPct,counts:bnpcCounts,title:"BnpC Subclones",titleY:476,yLabX:492,cbX:642});
confusion({x0:56,x1:173,y0:732,y1:885,dom:[3,100],pct:cnvPct,counts:cnvCounts,title:"inferCNV Subclones",titleY:711,yLabX:36,cbX:179});
svg.append("text").attr("class","arial").attr("transform","translate(676,548) rotate(90)").attr("text-anchor","middle").attr("font-size",15).attr("fill","#3a3a3a").text("%");

// ---------- panel f ----------
(function(){
    const x = d3.scaleLinear().domain([-7.33,6.98]).range([275,440]);
    const y = d3.scaleLinear().domain([-0.6,13.1]).range([878,712]);
    const g = svg.append("g");
    const ax = g.append("g").attr("transform","translate(0,878)").call(d3.axisBottom(x).tickValues(volcanoTicksX).tickSize(2));
    const ay = g.append("g").attr("transform","translate(275,0)").call(d3.axisLeft(y).tickValues(volcanoTicksY).tickSize(2));
    [ax,ay].forEach(function(a){
        a.select(".domain").remove();
        a.selectAll("text").attr("font-size",6).attr("fill","#444").attr("font-family","DejaVu Sans");
        a.selectAll("line").attr("stroke","#666").attr("stroke-width",0.6);
    });
    const pts = (arr,c) => g.append("g").selectAll("circle").data(arr).enter().append("circle")
        .attr("cx",d=>x(d[0])).attr("cy",d=>y(d[1])).attr("r",1.6).attr("fill",c);
    pts(volcanoZeroX.map(v=>[v,0]),"#8c8c8c");
    pts(volcanoGray,"#8c8c8c");
    pts(volcanoUp,"#f0262a");
    pts(volcanoDown,"#2222f0");
    [-1,1].forEach(v=>g.append("line").attr("x1",x(v)).attr("x2",x(v)).attr("y1",712).attr("y2",878)
        .attr("stroke","#f2a0a0").attr("stroke-width",0.7).attr("stroke-dasharray","1 1"));
    g.append("line").attr("x1",275).attr("x2",440).attr("y1",y(2)).attr("y2",y(2))
        .attr("stroke","#f2a0a0").attr("stroke-width",0.7).attr("stroke-dasharray","1 1");
    g.append("rect").attr("x",275).attr("y",712).attr("width",165).attr("height",166)
        .attr("fill","none").attr("stroke","#8a8a8a").attr("stroke-width",0.9);
    g.append("text").attr("x",358).attr("y",897).attr("text-anchor","middle").attr("font-size",9.8).attr("fill","#222").text("log2 FC");
    g.append("text").attr("transform","translate(261,794) rotate(-90)").attr("text-anchor","middle").attr("font-size",9.8).attr("fill","#222").text("-log10 Q-value");
    g.append("text").attr("x",327).attr("y",830).attr("text-anchor","middle").attr("font-size",7.6).attr("fill","#222").text("KRT8");
    g.append("text").attr("x",332).attr("y",837.5).attr("text-anchor","middle").attr("font-size",7.6).attr("fill","#222").text("KRT18");
    g.append("rect").attr("x",280).attr("y",716).attr("width",72.5).attr("height",45).attr("rx",2)
        .attr("fill","white").attr("fill-opacity",0.85).attr("stroke","#e6e6e6").attr("stroke-width",0.8);
    [["Up","#f0262a"],["Non-sig.","#8c8c8c"],["Down","#2222f0"]].forEach(function(it,i){
        const yy = 724+i*13.7;
        g.append("circle").attr("cx",293).attr("cy",yy).attr("r",2).attr("fill",it[1]);
        g.append("text").attr("x",310).attr("y",yy+3.2).attr("font-size",9).attr("fill","#222").text(it[0]);
    });
})();

// ---------- panel g ----------
(function(){
    const x = d3.scaleLinear().domain([67,648]).range([477.3,671]);
    const y = d3.scaleLinear().domain([180,610]).range([725,868.3]);
    const g = svg.append("g");
    const blocks = (arr,c) => g.append("g").selectAll("rect").data(arr).enter().append("rect")
        .attr("x",d=>x(d[0])).attr("width",d=>x(d[1])-x(d[0]))
        .attr("y",d=>y(d[2])).attr("height",d=>y(d[3])-y(d[2])).attr("fill",c);
    isoFaintX.forEach(function(v){
        g.append("line").attr("x1",x(v)).attr("x2",x(v)).attr("y1",y(193)).attr("y2",y(340)).attr("stroke","#e6f4f4").attr("stroke-width",0.6);
        g.append("line").attr("x1",x(v)).attr("x2",x(v)).attr("y1",y(434)).attr("y2",y(515)).attr("stroke","#e6f4f4").attr("stroke-width",0.6);
    });
    blocks(isoGreen,"#33a02c");
    blocks(isoRed,"#e31a1c");
    const readBand = (vals,y0,y1) => d3.scaleBand().domain(d3.range(vals.length)).range([y0,y1]);
    const gb = readBand(greenRead,192,327);
    blocks(greenRead.map((e,i)=>[558,e,gb(i),gb(i)+gb.bandwidth()]),"#33a02c");
    const rb = readBand(redRead,373,510);
    blocks(redRead.map((e,i)=>[558,e,rb(i),rb(i)+rb.bandwidth()]),"#e31a1c");
    g.append("g").selectAll("line").data(geneIntron).enter().append("line")
        .attr("x1",d=>x(d[0])).attr("x2",d=>x(d[1])).attr("y1",d=>y(d[2])).attr("y2",d=>y(d[2]))
        .attr("stroke","#bbb").attr("stroke-width",0.6);
    blocks(geneThin,"#000");
    blocks(geneThick,"#000");
    const lab = (s,cx,yy,c) => g.append("text").attr("x",x(cx)).attr("y",y(yy)).attr("text-anchor","middle")
        .attr("font-family","Roboto").attr("font-size",10.8).attr("fill",c).text(s);
    lab("Subclone A isoforms",333,161,"#33a02c");
    lab("Subclone B isoforms",333,368,"#ef2020");
    lab("Gencode annotation CHPF",337,548,"#222");
})();
</script>
</body>
</html>
